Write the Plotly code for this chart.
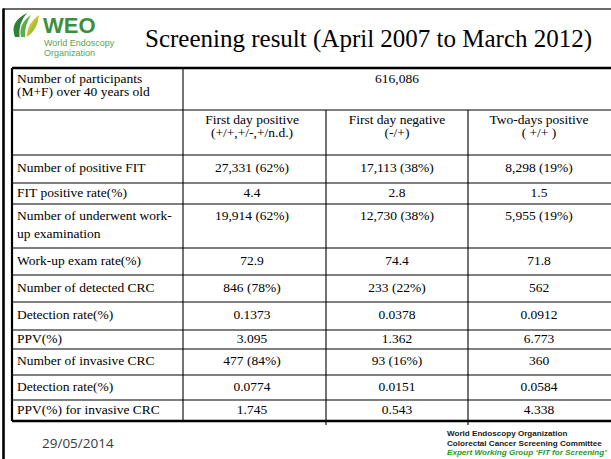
import plotly.graph_objects as go

# ---------------- data ----------------
title_text = "Screening result (April 2007 to March 2012)"
participants_label = ["Number of participants", "(M+F) over 40 years old"]
participants_total = "616,086"
group_headers = [
    ["First day positive", "(+/+,+/-,+/n.d.)"],
    ["First day negative", "(-/+)"],
    ["Two-days positive", "( +/+ )"],
]
metrics = [
    ["Number of positive FIT"],
    ["FIT positive rate(%)"],
    ["Number of underwent work-", "up examination"],
    ["Work-up exam rate(%)"],
    ["Number of detected CRC"],
    ["Detection rate(%)"],
    ["PPV(%)"],
    ["Number of invasive CRC"],
    ["Detection rate(%)"],
    ["PPV(%) for invasive CRC"],
]
first_day_positive = ["27,331 (62%)", "4.4", "19,914 (62%)", "72.9", "846 (78%)",
                      "0.1373", "3.095", "477 (84%)", "0.0774", "1.745"]
first_day_negative = ["17,113 (38%)", "2.8", "12,730 (38%)", "74.4", "233 (22%)",
                      "0.0378", "1.362", "93 (16%)", "0.0151", "0.543"]
two_days_positive = ["8,298 (19%)", "1.5", "5,955 (19%)", "71.8", "562",
                     "0.0912", "6.773", "360", "0.0584", "4.338"]
footer_date = "29/05/2014"
footer_org = ["World Endoscopy Organization",
              "Colorectal Cancer Screening Committee",
              "Expert Working Group \u2018FIT for Screening\u2019"]

# ---------------- layout (grid geometry, px) ----------------
W, H = 611, 459
row_edges = [68, 110, 155, 183, 204, 248, 275, 302, 330, 349, 375, 400, 421]
col_edges = [12, 183, 326, 468, 611]
label_x = 17
col_centers = [252, 397, 539]
multi_top_pad = {0: 11.5, 1: 11, 4: 13}
multi_gap = {0: 13, 1: 13, 4: 18}
FONT = "Liberation Serif"
FS = 13.5

def line_ys(row_idx, n_lines):
    top, bot = row_edges[row_idx], row_edges[row_idx + 1]
    if n_lines == 1 and row_idx not in multi_top_pad:
        return [(top + bot) / 2]
    first = top + multi_top_pad[row_idx]
    return [first + k * multi_gap[row_idx] for k in range(n_lines)]

# left column text
lx, ly, lt = [], [], []
rows_left = [participants_label, [""]] + metrics
for i, lines in enumerate(rows_left):
    for y, t in zip(line_ys(i, len(lines)), lines):
        if t:
            lx.append(label_x); ly.append(y); lt.append(t)

# value text
vx, vy, vt = [], [], []
y0 = line_ys(0, 2)[0]
vx.append((col_edges[1] + col_edges[4]) / 2); vy.append(y0); vt.append(participants_total)
for c, hdr in enumerate(group_headers):
    for y, t in zip(line_ys(1, len(hdr)), hdr):
        vx.append(col_centers[c]); vy.append(y); vt.append(t)
for c, series in enumerate([first_day_positive, first_day_negative, two_days_positive]):
    for r, val in enumerate(series):
        ri = r + 2
        n = len(metrics[r])
        vx.append(col_centers[c]); vy.append(line_ys(ri, n)[0]); vt.append(val)

fig = go.Figure()
fig.add_trace(go.Scatter(x=lx, y=ly, text=lt, mode="text", textposition="middle right",
                         textfont=dict(family=FONT, size=FS, color="black"),
                         hoverinfo="skip", showlegend=False))
fig.add_trace(go.Scatter(x=vx, y=vy, text=vt, mode="text", textposition="middle center",
                         textfont=dict(family=FONT, size=FS, color="black"),
                         hoverinfo="skip", showlegend=False))

shapes = []
def ln(x0, y0, x1, y1, w, c="black"):
    shapes.append(dict(type="line", xref="x", yref="y", x0=x0, y0=y0, x1=x1, y1=y1,
                       line=dict(color=c, width=w)))

# slide frame
ln(3, 9, W, 9, 1.6, "#3a3a3a")
ln(3.5, 8.5, 3.5, H, 2.6, "black")
# table horizontals
for k, y in enumerate(row_edges):
    w = 2.4 if k in (0, len(row_edges) - 1) else 1.1
    ln(col_edges[0], y, W, y, w)
# table verticals
ln(col_edges[0], row_edges[0], col_edges[0], row_edges[-1], 2.2)
ln(col_edges[1], row_edges[0], col_edges[1], row_edges[-1], 1.1)
for x in col_edges[2:4]:
    ln(x, row_edges[1], x, row_edges[-1] + 4, 1.1)

# logo icon
shapes.append(dict(type="path", xref="x", yref="y",
                   path="M 15 37 Q 9 22 27 13 Q 18 23 19.5 37 Z",
                   fillcolor="#2f7f34", line=dict(width=0)))
shapes.append(dict(type="path", xref="x", yref="y",
                   path="M 21 37 Q 18 24 31 15 Q 24.5 25 25 37 Z",
                   fillcolor="#5cae4a", line=dict(width=0)))
shapes.append(dict(type="path", xref="x", yref="y",
                   path="M 26.5 37 Q 27 23 39 15 Q 38 30 26.5 37 Z",
                   fillcolor="#d7c22a", line=dict(width=0)))
shapes.append(dict(type="path", xref="x", yref="y",
                   path="M 28 36 Q 30 26 38 18 Q 36 30 28 36 Z",
                   fillcolor="#9cc33a", line=dict(width=0)))

annotations = [
    dict(x=368, y=39, text=title_text, xref="x", yref="y", showarrow=False,
         xanchor="center", yanchor="middle",
         font=dict(family=FONT, size=25, color="black")),
    dict(x=41, y=25, text="<b>WEO</b>", xref="x", yref="y", showarrow=False,
         xanchor="left", yanchor="middle",
         font=dict(family="Liberation Sans", size=22, color="#3c8f3c")),
    dict(x=42, y=43, text="World Endoscopy", xref="x", yref="y", showarrow=False,
         xanchor="left", yanchor="middle",
         font=dict(family="Liberation Sans", size=9, color="#5aa552")),
    dict(x=42, y=52.5, text="Organization", xref="x", yref="y", showarrow=False,
         xanchor="left", yanchor="middle",
         font=dict(family="Liberation Sans", size=9, color="#5aa552")),
    dict(x=40, y=443, text=footer_date, xref="x", yref="y", showarrow=False,
         xanchor="left", yanchor="middle",
         font=dict(family="Open Sans", size=13.5, color="#3a3a3a")),
]
for k, (t, y) in enumerate(zip(footer_org, [433, 443, 452])):
    txt = f"<b>{t}</b>" if k < 2 else f"<b><i>{t}</i></b>"
    annotations.append(dict(x=445, y=y, text=txt, xref="x", yref="y", showarrow=False,
                            xanchor="left", yanchor="middle",
                            font=dict(family="Liberation Sans", size=8.1,
                                      color="#1a1a1a" if k < 2 else "#1f9a1f")))

fig.update_layout(
    width=W, height=H, margin=dict(l=0, r=0, t=0, b=0),
    paper_bgcolor="white", plot_bgcolor="white",
    xaxis=dict(range=[0, W], visible=False, fixedrange=True),
    yaxis=dict(range=[H, 0], visible=False, fixedrange=True),
    shapes=shapes, annotations=annotations, showlegend=False,
)
fig.write_html("out.html", config={"displayModeBar": False, "staticPlot": True},
               post_script="document.body.style.margin='0px';document.body.style.overflow='hidden';")
